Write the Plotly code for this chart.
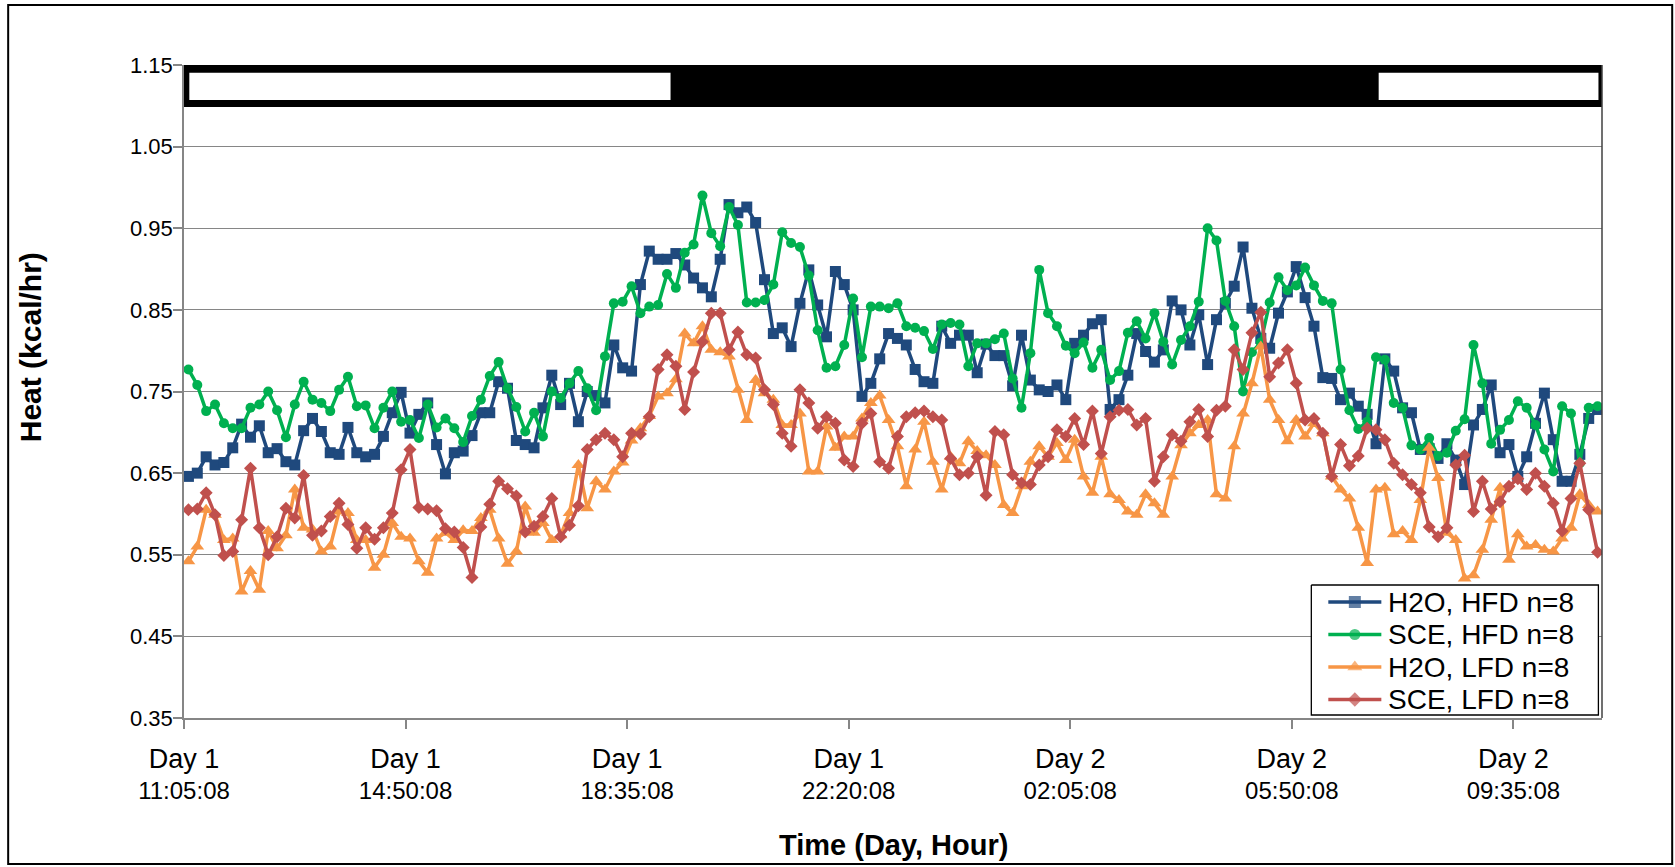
import plotly.graph_objects as go

# ---- data (160 samples, 9-min bins, starting Day 1 11:05:08) ----
h2o_hfd = [0.646,0.650,0.670,0.660,0.663,0.681,0.710,0.694,0.708,0.675,
           0.680,0.664,0.660,0.702,0.717,0.701,0.675,0.673,0.706,0.675,
           0.670,0.673,0.695,0.724,0.749,0.699,0.722,0.736,0.685,0.649,
           0.675,0.677,0.696,0.724,0.724,0.762,0.754,0.690,0.685,0.681,
           0.730,0.770,0.734,0.760,0.713,0.750,0.745,0.736,0.807,0.779,
           0.775,0.881,0.922,0.912,0.912,0.919,0.905,0.889,0.877,0.866,
           0.912,0.979,0.969,0.976,0.957,0.887,0.821,0.828,0.805,0.858,
           0.899,0.856,0.817,0.897,0.881,0.850,0.744,0.760,0.790,0.821,
           0.815,0.807,0.777,0.762,0.760,0.830,0.809,0.819,0.819,0.773,
           0.808,0.794,0.794,0.757,0.819,0.764,0.752,0.750,0.758,0.740,
           0.809,0.819,0.833,0.838,0.728,0.740,0.770,0.821,0.799,0.786,
           0.801,0.861,0.850,0.807,0.844,0.783,0.838,0.858,0.879,0.927,
           0.852,0.815,0.803,0.846,0.872,0.903,0.865,0.830,0.767,0.766,
           0.740,0.748,0.732,0.722,0.686,0.790,0.775,0.730,0.724,0.679,
           0.680,0.668,0.686,0.666,0.636,0.709,0.728,0.758,0.675,0.685,
           0.646,0.670,0.711,0.748,0.691,0.640,0.640,0.673,0.717,0.728]

sce_hfd = [0.777,0.758,0.726,0.734,0.711,0.705,0.705,0.730,0.734,0.750,
           0.727,0.694,0.734,0.762,0.740,0.736,0.726,0.752,0.768,0.732,
           0.733,0.705,0.730,0.750,0.713,0.715,0.693,0.734,0.706,0.717,
           0.705,0.688,0.720,0.740,0.769,0.786,0.754,0.731,0.701,0.724,
           0.695,0.750,0.742,0.760,0.775,0.754,0.727,0.793,0.858,0.860,
           0.879,0.846,0.854,0.856,0.894,0.877,0.920,0.930,0.990,0.944,
           0.928,0.976,0.954,0.859,0.859,0.862,0.881,0.945,0.932,0.927,
           0.892,0.825,0.779,0.781,0.807,0.864,0.792,0.854,0.854,0.852,
           0.858,0.830,0.828,0.824,0.802,0.832,0.834,0.832,0.781,0.809,
           0.809,0.814,0.821,0.766,0.730,0.797,0.899,0.846,0.830,0.806,
           0.797,0.810,0.779,0.801,0.764,0.775,0.822,0.836,0.815,0.846,
           0.811,0.783,0.813,0.830,0.860,0.950,0.935,0.861,0.830,0.750,
           0.798,0.810,0.859,0.890,0.874,0.880,0.902,0.880,0.861,0.858,
           0.777,0.727,0.704,0.713,0.792,0.789,0.736,0.730,0.684,0.679,
           0.693,0.671,0.675,0.702,0.716,0.807,0.760,0.686,0.703,0.715,
           0.738,0.730,0.709,0.679,0.652,0.732,0.723,0.662,0.730,0.732]

h2o_lfd = [0.542,0.560,0.605,0.599,0.568,0.570,0.505,0.530,0.507,0.579,
           0.558,0.574,0.630,0.583,0.581,0.554,0.560,0.603,0.601,0.568,
           0.568,0.534,0.550,0.589,0.572,0.570,0.542,0.528,0.570,0.577,
           0.568,0.580,0.579,0.595,0.605,0.570,0.539,0.554,0.609,0.577,
           0.589,0.568,0.574,0.601,0.660,0.607,0.640,0.630,0.652,0.663,
           0.690,0.705,0.720,0.744,0.748,0.765,0.821,0.809,0.830,0.801,
           0.798,0.793,0.752,0.715,0.764,0.748,0.740,0.709,0.709,0.723,
           0.652,0.652,0.707,0.681,0.695,0.695,0.717,0.736,0.745,0.715,
           0.683,0.634,0.679,0.713,0.664,0.630,0.670,0.662,0.689,0.677,
           0.672,0.660,0.611,0.601,0.634,0.664,0.683,0.670,0.687,0.666,
           0.691,0.646,0.626,0.670,0.624,0.617,0.603,0.599,0.624,0.613,
           0.599,0.646,0.684,0.699,0.709,0.715,0.624,0.619,0.683,0.723,
           0.760,0.805,0.740,0.715,0.689,0.715,0.695,0.711,0.699,0.646,
           0.630,0.619,0.583,0.540,0.630,0.632,0.575,0.579,0.568,0.617,
           0.681,0.644,0.577,0.568,0.521,0.525,0.556,0.593,0.632,0.544,
           0.575,0.560,0.562,0.556,0.554,0.570,0.583,0.624,0.611,0.603]

sce_lfd = [0.605,0.606,0.626,0.599,0.549,0.554,0.593,0.656,0.583,0.550,
           0.572,0.607,0.595,0.647,0.574,0.579,0.597,0.613,0.587,0.558,
           0.583,0.569,0.583,0.601,0.654,0.679,0.608,0.606,0.604,0.582,
           0.578,0.559,0.522,0.584,0.612,0.640,0.631,0.622,0.578,0.585,
           0.597,0.619,0.572,0.586,0.610,0.679,0.691,0.699,0.691,0.670,
           0.699,0.698,0.719,0.777,0.795,0.781,0.728,0.774,0.811,0.846,
           0.846,0.801,0.823,0.795,0.791,0.752,0.734,0.699,0.683,0.752,
           0.736,0.705,0.719,0.711,0.666,0.658,0.711,0.723,0.664,0.656,
           0.695,0.719,0.724,0.726,0.719,0.715,0.668,0.648,0.650,0.670,
           0.623,0.701,0.697,0.648,0.638,0.636,0.660,0.670,0.703,0.695,
           0.717,0.685,0.726,0.674,0.719,0.727,0.728,0.709,0.717,0.640,
           0.670,0.697,0.689,0.713,0.728,0.695,0.727,0.732,0.801,0.777,
           0.822,0.847,0.768,0.785,0.801,0.760,0.715,0.717,0.699,0.646,
           0.685,0.659,0.671,0.705,0.703,0.691,0.662,0.648,0.636,0.626,
           0.584,0.572,0.583,0.660,0.672,0.603,0.640,0.606,0.615,0.634,
           0.643,0.630,0.650,0.634,0.613,0.579,0.619,0.662,0.605,0.553]

series_names = ["H2O, HFD n=8", "SCE, HFD n=8", "H2O, LFD n=8", "SCE, LFD n=8"]
series_colors = ["#1F497D", "#00B050", "#F79646", "#C0504D"]
series_symbols = ["square", "circle", "triangle-up", "diamond"]
series_sizes = [11, 10, 12, 10]

tick_index = [0, 25, 50, 75, 100, 125, 150]
tick_days = ["Day 1", "Day 1", "Day 1", "Day 1", "Day 2", "Day 2", "Day 2"]
tick_times = ["11:05:08", "14:50:08", "18:35:08", "22:20:08",
              "02:05:08", "05:50:08", "09:35:08"]

# light/dark bar (category index where lights go off / on)
lights_off_idx = 54.4
lights_on_idx = 134.3

n = len(h2o_hfd)
x_idx = list(range(n))

FONT = "Liberation Sans, Arial, sans-serif"
W, H = 1675, 867
PL, PR, PT, PB = 184, 1601.6, 65, 718   # plot area in pixels
LINE_W = 3.5

fig = go.Figure()
for vals, name, col, sym, sz in zip([h2o_hfd, sce_hfd, h2o_lfd, sce_lfd],
                                    series_names, series_colors,
                                    series_symbols, series_sizes):
    fig.add_trace(go.Scatter(
        x=x_idx, y=vals, name=name, mode="lines+markers",
        line=dict(color=col, width=LINE_W),
        marker=dict(symbol=sym, size=sz, color=col, line=dict(width=0)),
        showlegend=False,
    ))

# empty trace so that the second row of x tick labels (xaxis3) is rendered
fig.add_trace(go.Scatter(x=[], y=[], xaxis="x3", yaxis="y", showlegend=False,
                         hoverinfo="skip"))

# ---- custom legend drawn on a pixel-space overlay axis ----
LEG_L, LEG_R, LEG_T, LEG_B = 1311, 1598, 585, 715
ROW0, ROW_STEP = 602, 32.5
SAMPLE_X0, SAMPLE_X1, TEXT_X = 1328, 1381, 1386
fig.add_trace(go.Scatter(
    x=[LEG_L, LEG_R, LEG_R, LEG_L, LEG_L], y=[LEG_T, LEG_T, LEG_B, LEG_B, LEG_T],
    xaxis="x2", yaxis="y2", mode="lines", fill="toself", fillcolor="white",
    line=dict(color="black", width=1.3), hoverinfo="skip", showlegend=False))
annotations = []
for k, (name, col, sym, sz) in enumerate(zip(series_names, series_colors,
                                             series_symbols, series_sizes)):
    ry = ROW0 + ROW_STEP * k
    fig.add_trace(go.Scatter(
        x=[SAMPLE_X0, (SAMPLE_X0 + SAMPLE_X1) / 2, SAMPLE_X1], y=[ry, ry, ry],
        xaxis="x2", yaxis="y2", mode="lines+markers",
        line=dict(color=col, width=LINE_W),
        marker=dict(symbol=sym, size=[0, sz + 1, 0], color=col, line=dict(width=0)),
        hoverinfo="skip", showlegend=False, cliponaxis=False))
    annotations.append(dict(text=name, xref="x2", yref="y2", x=TEXT_X, y=ry,
                            xanchor="left", yanchor="middle", showarrow=False,
                            font=dict(family=FONT, size=28, color="black")))

annotations += [
    dict(text="<b>Heat (kcal/hr)</b>", xref="paper", yref="paper",
         x=-0.1085, y=0.568, textangle=-90, showarrow=False,
         xanchor="center", yanchor="middle",
         font=dict(family=FONT, size=30, color="black")),
    dict(text="<b>Time (Day, Hour)</b>", xref="paper", yref="paper",
         x=0.5, y=-0.195, showarrow=False, xanchor="center", yanchor="middle",
         font=dict(family=FONT, size=29, color="black")),
]

x0, x1 = -0.5, n - 0.5
shapes = [
    # light/dark bar
    dict(type="rect", xref="x", yref="y", x0=x0, x1=x1 + 0.3, y0=1.0986, y1=1.15,
         fillcolor="black", line=dict(width=0), layer="above"),
    dict(type="rect", xref="x", yref="y", x0=x0 + 0.6, x1=lights_off_idx, y0=1.1071, y1=1.1406,
         fillcolor="white", line=dict(width=0), layer="above"),
    dict(type="rect", xref="x", yref="y", x0=lights_on_idx, x1=x1 - 0.4, y0=1.1071, y1=1.1406,
         fillcolor="white", line=dict(width=0), layer="above"),
    # plot right border
    dict(type="line", xref="paper", yref="paper", x0=1, x1=1, y0=0, y1=1,
         line=dict(color="#404040", width=1.5)),
    # chart outer border
    dict(type="rect", xref="paper", yref="paper", x0=-0.124, x1=1.0495, y0=-0.2236, y1=1.092,
         line=dict(color="black", width=2), fillcolor="rgba(0,0,0,0)"),
]

tickvals = [i - 0.5 for i in tick_index]   # ticks sit on category boundaries

fig.update_layout(
    width=W, height=H,
    margin=dict(l=PL, r=W - PR, t=PT, b=H - PB),
    paper_bgcolor="white", plot_bgcolor="white",
    font=dict(family=FONT, size=22, color="black"),
    showlegend=False,
    shapes=shapes,
    annotations=annotations,
    xaxis=dict(
        range=[x0, x1], showgrid=False, zeroline=False,
        tickmode="array", tickvals=tickvals, ticktext=tick_days,
        ticks="outside", ticklen=9, tickcolor="#868686", tickwidth=1.5,
        showline=True, linecolor="#868686", linewidth=1.5,
        tickfont=dict(family=FONT, size=27, color="black"),
        ticklabelstandoff=7,
    ),
    xaxis3=dict(
        overlaying="x", anchor="y", side="bottom",
        range=[x0, x1], showgrid=False, zeroline=False, showline=False,
        tickmode="array", tickvals=tickvals, ticktext=tick_times,
        ticks="outside", ticklen=9, tickcolor="rgba(0,0,0,0)",
        tickfont=dict(family=FONT, size=24, color="black"),
        ticklabelstandoff=42,
    ),
    yaxis=dict(
        range=[0.35, 1.15], dtick=0.1, tick0=0.35, tickformat=".2f",
        showgrid=True, gridcolor="#868686", gridwidth=1.2, zeroline=False,
        ticks="outside", ticklen=9, tickcolor="#868686", tickwidth=1.5,
        showline=True, linecolor="#868686", linewidth=1.5,
        tickfont=dict(family=FONT, size=22, color="black"),
        ticklabelstandoff=-4,
    ),
    xaxis2=dict(overlaying="x", anchor="y2", range=[PL, PR], visible=False,
                fixedrange=True),
    yaxis2=dict(overlaying="y", anchor="x2", range=[PB, PT], visible=False,
                fixedrange=True),
)

fig.write_html("out.html", config={"displayModeBar": False},
               post_script="document.body.style.margin='0px';")
